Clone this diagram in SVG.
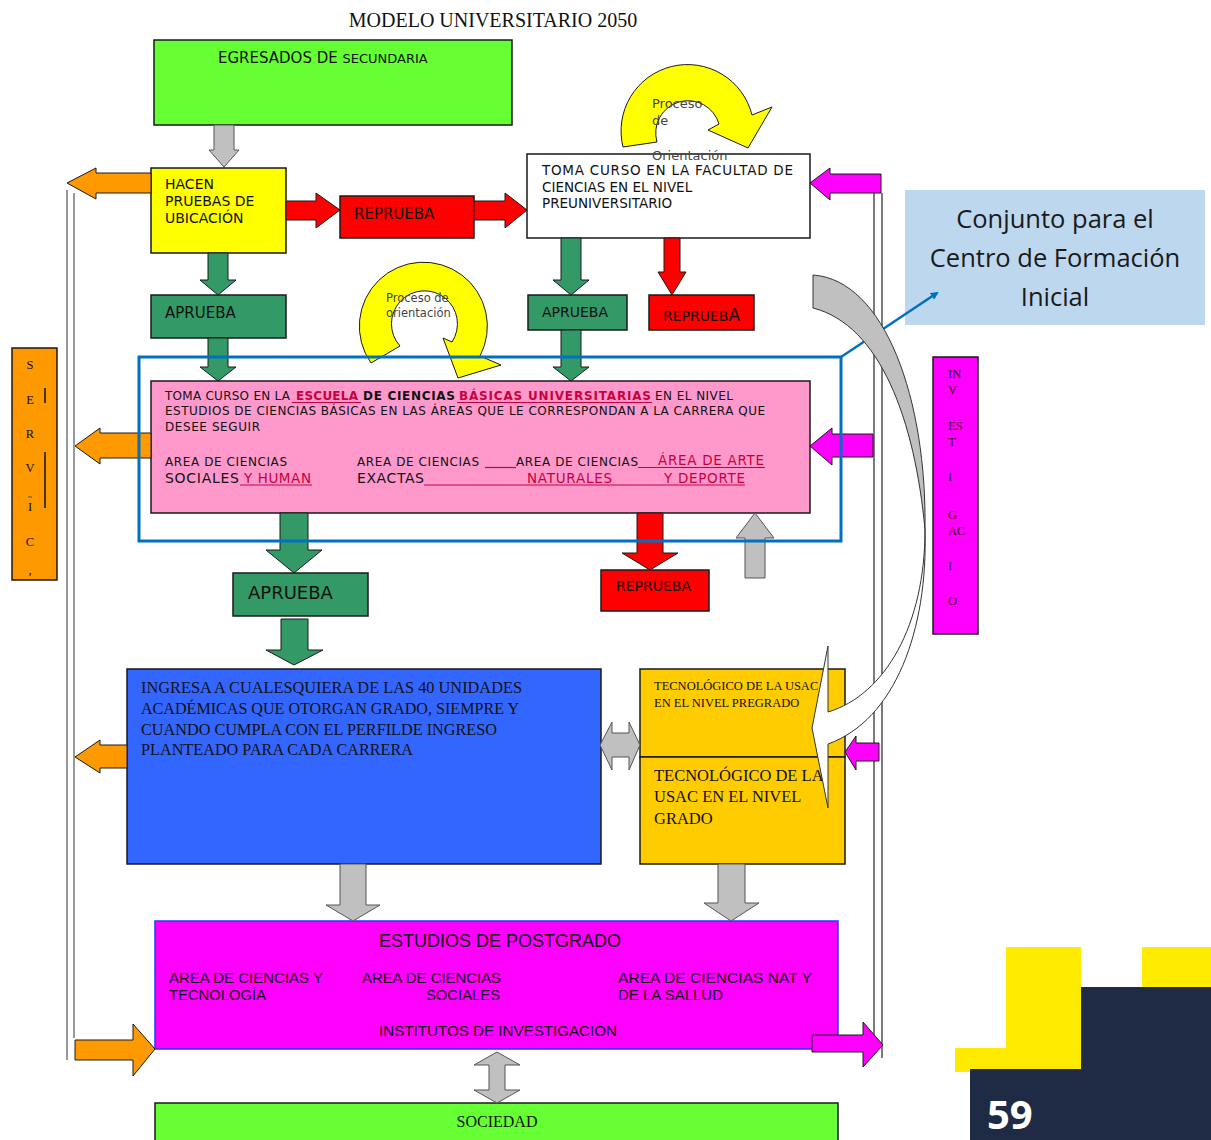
<svg xmlns="http://www.w3.org/2000/svg" width="1211" height="1140" viewBox="0 0 1211 1140">
<style>
.v{font-family:"DejaVu Sans",Verdana,sans-serif;fill:#111}
.s{font-family:"Liberation Serif","Times New Roman",serif;fill:#111}
.n{font-family:"Liberation Sans",Arial,sans-serif;fill:#111}
.bx{stroke:#1a1a1a;stroke-width:1.5}
.red{fill:#c8003c}
.ul{stroke:#c8003c;stroke-width:1.2}
.ga{fill:#c0c0c0;stroke:#555;stroke-width:1}
.gr{fill:#339966;stroke:#1a1a1a;stroke-width:1}
.rd{fill:#ff0000;stroke:#1a1a1a;stroke-width:1}
.or{fill:#ff9900;stroke:#1a1a1a;stroke-width:1}
.mg{fill:#ff00ff;stroke:#1a1a1a;stroke-width:1}
.ye{fill:#ffff00;stroke:#1a1a1a;stroke-width:1}
</style>
<defs>
<marker id="bh" markerWidth="8" markerHeight="8" refX="6" refY="4" orient="auto" markerUnits="userSpaceOnUse"><path d="M0,0 L8,4 L0,8 Z" fill="#0070c0"/></marker>
</defs>
<rect width="1211" height="1140" fill="#fff"/>
<text class="s" x="493" y="27" font-size="20" text-anchor="middle">MODELO UNIVERSITARIO 2050</text>

<!-- side lines -->
<g id="lines" fill="none">
<line x1="67" y1="190" x2="67" y2="1060" stroke="#777" stroke-width="1.5"/>
<line x1="74" y1="193" x2="74" y2="1038" stroke="#777" stroke-width="1.5"/>
<line x1="874" y1="193" x2="874" y2="1036" stroke="#222" stroke-width="1.2"/>
<line x1="882" y1="193" x2="882" y2="1058" stroke="#222" stroke-width="1.2"/>
</g>

<g id="n-egresados"><rect class="bx" x="154" y="40" width="358" height="85" fill="#66ff33"/>
<text class="v" x="218" y="63" font-size="15">EGRESADOS DE <tspan font-size="13">SECUNDARIA</tspan></text></g>

<g id="n-hacen"><rect class="bx" x="151" y="168" width="135" height="85" fill="#ffff00"/>
<text class="v" x="165" y="189" font-size="14">HACEN</text>
<text class="v" x="165" y="206" font-size="14">PRUEBAS DE</text>
<text class="v" x="165" y="223" font-size="14">UBICACIÓN</text></g>

<g id="n-reprueba1"><rect class="bx" x="340" y="196" width="134" height="42" fill="#ff0000"/>
<text class="v" x="354" y="219" font-size="15">REPRUEBA</text></g>

<g id="n-toma1"><rect class="bx" x="527" y="154" width="283" height="84" fill="#fff"/>
<text class="v" x="542" y="175" font-size="13.5" textLength="251">TOMA CURSO EN LA FACULTAD DE</text>
<text class="v" x="542" y="192" font-size="13.5">CIENCIAS EN EL NIVEL</text>
<text class="v" x="542" y="208" font-size="13.5">PREUNIVERSITARIO</text></g>

<g id="n-aprueba1"><rect class="bx" x="151" y="295" width="135" height="43" fill="#339966"/>
<text class="v" x="165" y="318" font-size="15">APRUEBA</text></g>
<g id="n-aprueba2"><rect class="bx" x="528" y="295" width="99" height="35" fill="#339966"/>
<text class="v" x="542" y="317" font-size="14">APRUEBA</text></g>
<g id="n-reprueba2"><rect class="bx" x="649" y="295" width="105" height="35" fill="#ff0000"/>
<text class="v" x="663" y="321" font-size="14">REPRUEB<tspan font-size="17">A</tspan></text></g>

<g id="n-conjunto"><rect x="905" y="190" width="300" height="135" fill="#bdd7ee"/>
<text x="1055" y="228" font-size="25.5" text-anchor="middle" font-family="'Open Sans','Noto Sans',sans-serif" fill="#1a1a1a">Conjunto para el</text>
<text x="1055" y="267" font-size="25.5" text-anchor="middle" font-family="'Open Sans','Noto Sans',sans-serif" fill="#1a1a1a">Centro de Formación</text>
<text x="1055" y="306" font-size="25.5" text-anchor="middle" font-family="'Open Sans','Noto Sans',sans-serif" fill="#1a1a1a">Inicial</text></g>

<g id="n-escuela"><rect class="bx" x="151" y="381" width="659" height="132" fill="#ff99cc"/>
<text class="v" x="165" y="400" font-size="12" textLength="125">TOMA CURSO EN LA</text>
<text class="v red" x="296" y="400" font-size="12" font-weight="bold" textLength="62">ESCUELA</text>
<text class="v" x="363" y="400" font-size="12" font-weight="bold" textLength="92">DE CIENCIAS</text>
<text class="v red" x="459" y="400" font-size="12" font-weight="bold" textLength="192">BÁSICAS UNIVERSITARIAS</text>
<text class="v" x="655" y="400" font-size="12" textLength="78">EN EL NIVEL</text>
<line class="ul" x1="292" y1="402.5" x2="361" y2="402.5"/>
<line class="ul" x1="457" y1="402.5" x2="652" y2="402.5"/>
<text class="v" x="165" y="415" font-size="12" textLength="600">ESTUDIOS DE CIENCIAS BÁSICAS EN LAS ÁREAS QUE LE CORRESPONDAN A LA CARRERA QUE</text>
<text class="v" x="165" y="431" font-size="12" textLength="95">DESEE SEGUIR</text>
<text class="v" x="165" y="466" font-size="12" textLength="122">AREA DE CIENCIAS</text>
<text class="v" x="357" y="466" font-size="12" textLength="122">AREA DE CIENCIAS</text>
<line class="ul" x1="485" y1="467.5" x2="516" y2="467.5"/>
<text class="v" x="516" y="466" font-size="12" textLength="122">AREA DE CIENCIAS</text>
<line class="ul" x1="638" y1="467.5" x2="765" y2="467.5"/>
<text class="v red" x="658" y="465" font-size="13.5" textLength="106">ÁREA DE ARTE</text>
<text class="v" x="165" y="483" font-size="14" textLength="74">SOCIALES</text>
<text class="v red" x="244" y="483" font-size="13.5" textLength="67">Y HUMAN</text>
<line class="ul" x1="240" y1="485" x2="312" y2="485"/>
<text class="v" x="357" y="483" font-size="14" textLength="67">EXACTAS</text>
<line class="ul" x1="424" y1="485" x2="745" y2="485"/>
<text class="v red" x="527" y="483" font-size="13.5" textLength="85">NATURALES</text>
<text class="v red" x="664" y="483" font-size="13.5" textLength="81">Y DEPORTE</text></g>

<g id="n-aprueba3"><rect class="bx" x="233" y="573" width="135" height="43" fill="#339966"/>
<text class="v" x="248" y="599" font-size="18">APRUEBA</text></g>
<g id="n-reprueba3"><rect class="bx" x="601" y="570" width="108" height="41" fill="#ff0000"/>
<text class="v" x="616" y="591" font-size="14">REPRUEBA</text></g>

<g id="n-ingresa"><rect class="bx" x="127" y="669" width="474" height="195" fill="#3366ff"/>
<text class="s" x="141" y="693" font-size="16" textLength="381" lengthAdjust="spacingAndGlyphs">INGRESA A CUALESQUIERA DE LAS 40 UNIDADES</text>
<text class="s" x="141" y="714" font-size="16" textLength="378" lengthAdjust="spacingAndGlyphs">ACADÉMICAS QUE OTORGAN GRADO, SIEMPRE Y</text>
<text class="s" x="141" y="735" font-size="16" textLength="356" lengthAdjust="spacingAndGlyphs">CUANDO CUMPLA CON EL PERFILDE INGRESO</text>
<text class="s" x="141" y="755" font-size="16" textLength="272" lengthAdjust="spacingAndGlyphs">PLANTEADO PARA CADA CARRERA</text></g>

<g id="n-tecpre"><rect class="bx" x="640" y="669" width="205" height="88" fill="#ffcc00"/>
<text class="s" x="654" y="690" font-size="12.5">TECNOLÓGICO DE LA USAC</text>
<text class="s" x="654" y="707" font-size="12.5">EN EL NIVEL PREGRADO</text></g>
<g id="n-tecgrado"><rect class="bx" x="640" y="757" width="205" height="107" fill="#ffcc00"/>
<text class="s" x="654" y="781" font-size="16.5">TECNOLÓGICO DE LA</text>
<text class="s" x="654" y="802" font-size="16.5">USAC EN EL NIVEL</text>
<text class="s" x="654" y="824" font-size="16.5">GRADO</text></g>

<g id="n-postgrado"><rect x="155" y="921" width="683" height="128" fill="#ff00ff" stroke="#1a3cff" stroke-width="1.5"/>
<text class="n" x="500" y="947" font-size="18" text-anchor="middle">ESTUDIOS DE POSTGRADO</text>
<text class="n" x="169" y="983" font-size="14" textLength="154" lengthAdjust="spacingAndGlyphs">AREA DE CIENCIAS Y</text>
<text class="n" x="169" y="1000" font-size="14" textLength="97" lengthAdjust="spacingAndGlyphs">TECNOLOGÍA</text>
<text class="n" x="362" y="983" font-size="14" textLength="139" lengthAdjust="spacingAndGlyphs">AREA DE CIENCIAS</text>
<text class="n" x="426" y="1000" font-size="14" textLength="74" lengthAdjust="spacingAndGlyphs">SOCIALES</text>
<text class="n" x="618" y="983" font-size="14" textLength="194" lengthAdjust="spacingAndGlyphs">AREA DE  CIENCIAS NAT Y</text>
<text class="n" x="618" y="1000" font-size="14" textLength="105" lengthAdjust="spacingAndGlyphs">DE LA SALLUD</text>
<text class="n" x="379" y="1036" font-size="14" textLength="238" lengthAdjust="spacingAndGlyphs">INSTITUTOS DE INVESTIGACIÓN</text></g>

<g id="n-sociedad"><rect class="bx" x="155" y="1103" width="683" height="40" fill="#66ff33"/>
<text class="s" x="497" y="1127" font-size="16" text-anchor="middle">SOCIEDAD</text></g>

<g id="n-servicios"><rect class="bx" x="12" y="348" width="45" height="232" fill="#ff9900"/>
<g class="s" font-size="12.5" text-anchor="middle">
<text x="30" y="369">S</text><text x="30" y="404">E</text><text x="30" y="438">R</text><text x="30" y="472">V</text><text x="30" y="511">I</text><text x="30" y="546">C</text><text x="30" y="574">,</text></g>
<line x1="45" y1="388" x2="45" y2="403" stroke="#111" stroke-width="1.5"/>
<line x1="45" y1="452" x2="45" y2="508" stroke="#111" stroke-width="1.5"/>
<line x1="28" y1="497" x2="32" y2="497" stroke="#555" stroke-width="1"/></g>

<g id="n-investigacion"><rect class="bx" x="933" y="357" width="45" height="277" fill="#ff00ff"/>
<g class="s" font-size="12.5" style="fill:#3a0010">
<text x="948" y="378">IN</text><text x="948" y="394">V</text><text x="948" y="430">ES</text><text x="948" y="446">T</text><text x="948" y="481">I</text><text x="948" y="519">G</text><text x="948" y="535">AC</text><text x="948" y="570">I</text><text x="948" y="605">O</text></g></g>

<g id="n-deco">
<rect x="1006" y="947" width="75" height="125" fill="#ffeb00"/>
<rect x="955" y="1048" width="126" height="24" fill="#ffeb00"/>
<rect x="1142" y="947" width="69" height="40" fill="#ffeb00"/>
<rect x="1081" y="987" width="130" height="153" fill="#1f2a44"/>
<rect x="970" y="1069" width="111" height="71" fill="#1f2a44"/>
<text x="987" y="1129" font-size="40" font-weight="bold" font-family="'Open Sans','DejaVu Sans',sans-serif" fill="#fff">59</text></g>

<g id="connectors">
<path class="ga" d="M214,125 H234 V150 H239 L224,167 L209,150 H214 Z"/>
<path class="rd" d="M286,201 H316 V193 L340,210 L316,228 V220 H286 Z"/>
<path class="rd" d="M474,201 H505 V193 L527,210 L505,228 V220 H474 Z"/>
<path class="gr" d="M208,253 H228 V280 H236 L218,295 L200,280 H208 Z"/>
<path class="gr" d="M208,338 H228 V367 H236 L218,381 L200,367 H208 Z"/>
<path class="gr" d="M561,238 H581 V280 H589 L571,295 L553,280 H561 Z"/>
<path class="gr" d="M561,330 H581 V367 H589 L571,381 L553,367 H561 Z"/>
<path class="gr" d="M280,513 H308 V550 H322 L294,573 L266,550 H280 Z"/>
<path class="gr" d="M281,619 H308 V650 H323 L294,665 L266,650 H281 Z"/>
<path class="rd" d="M664,238 H680 V272 H686 L672,295 L658,272 H664 Z"/>
<path class="rd" d="M637,513 H663 V553 H678 L650,570 L622,553 H637 Z"/>
<path class="ga" d="M745,578 H765 V538 H774 L755,513 L736,538 H745 Z"/>
<path class="ga" d="M600,745 L612,722 V733 H629 V722 L640,745 L629,770 V757 H612 V770 Z"/>
<path class="ga" d="M340,864 H366 V905 H380 L353,921 L326,905 H340 Z"/>
<path class="ga" d="M718,864 H745 V903 H759 L731,921 L704,903 H718 Z"/>
<path class="ga" d="M497,1052 L520,1065 H505 V1090 H520 L497,1103 L474,1090 H489 V1065 H474 Z"/>
<path class="or" d="M151,173 H96 V168 L67,183 L96,199 V193 H151 Z"/>
<path class="or" d="M151,433 H100 V428 L75,446 L100,464 V458 H151 Z"/>
<path class="or" d="M127,745 H100 V740 L75,757 L100,773 V768 H127 Z"/>
<path class="or" d="M75,1040 H133 V1024 L155,1049 L133,1076 V1060 H75 Z"/>
<path class="mg" d="M881,174 H830 V168 L810,183 L830,200 V193 H881 Z"/>
<path class="mg" d="M873,434 H832 V428 L810,446 L832,465 V457 H873 Z"/>
<path class="mg" d="M879,743 H856 V736 L845,752 L856,770 V761 H879 Z"/>
<path class="mg" d="M812,1035 H863 V1022 L883,1045 L863,1067 V1052 H812 Z"/>
<path class="ye" d="M623,147 A66,66 0 0 1 752,115 L772,107 L748,148 L708,130 L719,124 A32,32 0 0 0 657,142 Z"/>
<text x="652" y="108" font-size="13" class="v" style="fill:#444">Proceso</text>
<text x="652" y="125" font-size="13" class="v" style="fill:#444">de</text>
<text x="652" y="160" font-size="13" class="v" style="fill:#444">Orientación</text>
<path class="ye" d="M371,363 A64,64 0 1 1 480,356 L501,365 L458,378 L443,338 L452,342 A33,33 0 1 0 400,346 Z"/>
<text x="386" y="302" font-size="11.5" class="v" style="fill:#444">Proceso de</text>
<text x="386" y="317" font-size="11.5" class="v" style="fill:#444">orientación</text>
<rect x="139" y="357" width="702" height="184" fill="none" stroke="#0070c0" stroke-width="3"/>
<line x1="841" y1="357" x2="937" y2="293" stroke="#0070c0" stroke-width="2.5" marker-end="url(#bh)"/>
<path d="M813,275 C885,280 927,400 925,530 C915,420 880,325 813,308 Z" fill="#c0c0c0" stroke="#333" stroke-width="1"/>
<path d="M925,530 C925,625 885,695 828,712 L828,646 L812,728 L828,808 L828,744 C895,720 928,630 925,530 Z" fill="#fff" stroke="#333" stroke-width="1"/>
</g>
</svg>
